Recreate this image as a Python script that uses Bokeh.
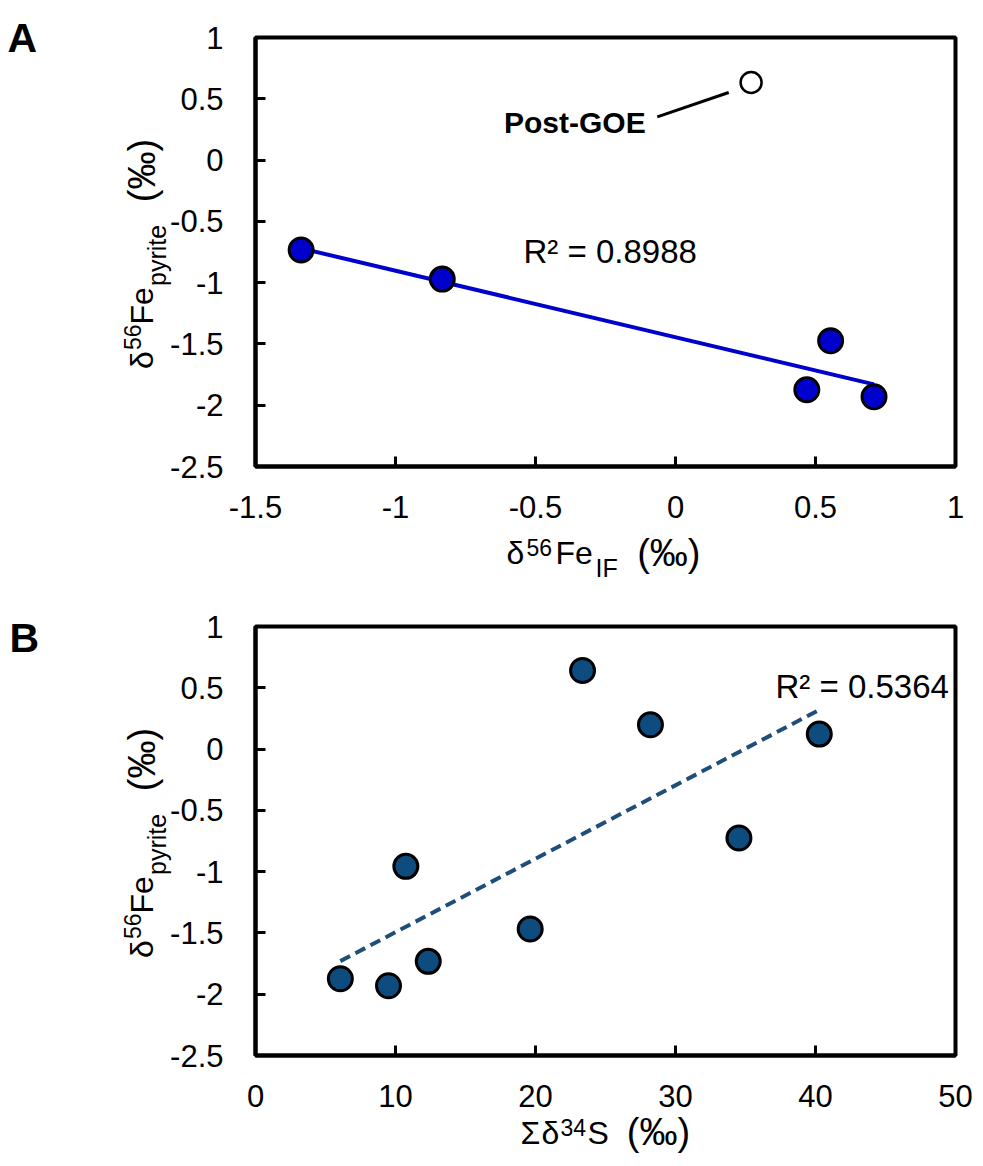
import math
from bokeh.plotting import figure
from bokeh.models import Label, FixedTicker, Range1d, NumeralTickFormatter
from bokeh.layouts import column
from bokeh.embed import file_html
from bokeh.resources import INLINE

# ---------------- data ----------------
# Panel A
fe_if = [-1.337, -0.833, 0.554, 0.469, 0.709]
fe_pyrite_a = [-0.734, -0.971, -1.474, -1.874, -1.931]
post_goe_x = [0.270]
post_goe_y = [0.633]
trend_a_x = [-1.337, 0.709]
trend_a_y = [-0.72, -1.83]
goe_leader_x = [-0.065, 0.190]
goe_leader_y = [0.353, 0.551]
r2_a = "R² = 0.8988"

# Panel B
sum_d34s = [6.06, 9.50, 12.34, 10.74, 19.62, 23.36, 28.21, 34.53, 40.27]
fe_pyrite_b = [-1.874, -1.931, -1.732, -0.957, -1.468, 0.641, 0.198, -0.726, 0.122]
trend_b_x = [6.06, 40.27]
trend_b_y = [-1.73, 0.32]
r2_b = "R² = 0.5364"

# ticks
xticks_a = [-1.5, -1, -0.5, 0, 0.5, 1]
xlabels_a = ["-1.5", "-1", "-0.5", "0", "0.5", "1"]
xticks_b = [0, 10, 20, 30, 40, 50]
xlabels_b = ["0", "10", "20", "30", "40", "50"]
yticks = [-2.5, -2, -1.5, -1, -0.5, 0, 0.5, 1]
ylabels = ["-2.5", "-2", "-1.5", "-1", "-0.5", "0", "0.5", "1"]

FONT = "Liberation Sans"
PAGE_W, PAGE_H = 983, 1166
PANEL_H = 583
FL, FW, FH = 255, 700, 429   # frame left (page px), frame width, frame height
TOP_A, TOP_B = 37, 626       # page y of the frame tops
SHIFT = 0.35                 # baseline correction (em)
A90 = math.pi / 2


def key(t):
    return int(t) if float(t).is_integer() else float(t)


def no_align(f):
    if "frame_align" in f.properties():
        f.frame_align = False


def make_fig(xr, xt, xl, top):
    p = figure(frame_width=FW, frame_height=FH,
               x_range=Range1d(*xr), y_range=Range1d(-2.5, 1),
               output_backend="svg", toolbar_location=None,
               min_border_left=FL, min_border_right=PAGE_W - FL - FW,
               min_border_top=top, min_border_bottom=PANEL_H - top - FH)
    no_align(p)
    p.background_fill_color = "white"
    p.border_fill_color = "white"
    p.grid.visible = False
    p.outline_line_color = "black"
    p.outline_line_width = 4
    p.outline_line_alpha = 1
    p.xaxis.ticker = FixedTicker(ticks=xt)
    p.xaxis.formatter = NumeralTickFormatter(format="0.[0]")
    p.xaxis.major_label_overrides = {key(t): s for t, s in zip(xt, xl)}
    p.yaxis.ticker = FixedTicker(ticks=yticks)
    p.yaxis.formatter = NumeralTickFormatter(format="0.[0]")
    p.yaxis.major_label_overrides = {key(t): s for t, s in zip(yticks, ylabels)}
    for ax in (p.xaxis[0], p.yaxis[0]):
        ax.axis_line_color = "black"
        ax.axis_line_width = 4
        ax.major_tick_in = 10
        ax.major_tick_out = 0
        ax.major_tick_line_width = 3
        ax.major_tick_line_color = "black"
        ax.minor_tick_line_color = None
        ax.major_label_text_font = FONT
        ax.major_label_text_font_size = "31px"
        ax.major_label_text_color = "black"
    p.xaxis.major_label_standoff = 29
    p.yaxis.major_label_standoff = 32
    return p


def lab(f, x, y, text, size, bold=False, angle=0.0, align="left"):
    f.add_layout(Label(x=x, y=y, x_units="data", y_units="data", text=text,
                       text_font=FONT, text_font_size=f"{size}px",
                       text_font_style="bold" if bold else "normal",
                       text_color="black", angle=angle,
                       text_align=align, text_baseline="alphabetic"))


def corr(cx, cy, size, angle):
    if angle:
        return cx - SHIFT * size, cy
    return cx, cy - SHIFT * size


def put_page(f, cx, cy, text, size, angle=0.0, **kw):
    # page pixel position of the baseline -> units of the full-page text layer
    cx, cy = corr(cx, cy, size, angle)
    lab(f, cx, PAGE_H - cy, text, size, angle=angle, **kw)


def put_data(p, xr, top_local, cx, cy_local, text, size, **kw):
    # pixel position of the baseline inside a panel -> data units of its chart
    cx, cy_local = corr(cx, cy_local, size, 0)
    x0, x1 = xr
    xd = x0 + (cx - FL) / FW * (x1 - x0)
    yd = 1 - (cy_local - top_local) / FH * 3.5
    lab(p, xd, yd, text, size, **kw)


# ---------------- panel A ----------------
XR_A = (-1.5, 1)
pa = make_fig(XR_A, xticks_a, xlabels_a, TOP_A)
pa.line(trend_a_x, trend_a_y, line_color="#0000CC", line_width=4)
pa.line(goe_leader_x, goe_leader_y, line_color="black", line_width=3)
pa.scatter(fe_if, fe_pyrite_a, marker="circle", size=24, fill_color="#0000CC",
           line_color="black", line_width=3)
pa.scatter(post_goe_x, post_goe_y, marker="circle", size=21, fill_color="white",
           line_color="black", line_width=2.5)
put_data(pa, XR_A, TOP_A, 503.5, 132, "Post-GOE", 30, bold=True)
put_data(pa, XR_A, TOP_A, 523, 262.5, r2_a, 33)

# ---------------- panel B ----------------
XR_B = (0, 50)
TOP_B_LOCAL = TOP_B - PANEL_H
pb = make_fig(XR_B, xticks_b, xlabels_b, TOP_B_LOCAL)
pb.line(trend_b_x, trend_b_y, line_color="#1F4E79", line_width=4, line_dash="11 6")
pb.scatter(sum_d34s, fe_pyrite_b, marker="circle", size=24, fill_color="#0E4C80",
           line_color="black", line_width=3)
put_data(pb, XR_B, TOP_B_LOCAL, 775, 697.6 - PANEL_H, r2_b, 33)

# ---------------- full-page transparent text layer (axis titles, panel letters) ----------------
txt = figure(width=PAGE_W, height=PAGE_H, x_range=Range1d(0, PAGE_W), y_range=Range1d(0, PAGE_H),
             output_backend="svg", toolbar_location=None, title=None,
             x_axis_location=None, y_axis_location=None, min_border=0,
             margin=(-PAGE_H, 0, 0, 0))
no_align(txt)
txt.grid.visible = False
txt.outline_line_color = None
txt.background_fill_color = None
txt.border_fill_color = None
txt.background_fill_alpha = 0
txt.border_fill_alpha = 0

# y-axis title pieces: (text, size, baseline x, offset along axis from frame centre, align)
ylab_parts = [("δ", 32, 153, 117, "left"), ("56", 23, 140, 98, "left"),
              ("Fe", 32, 153, 72.5, "left"), ("pyrite", 25, 165, 34, "left"),
              ("(‰)", 38, 155, -81.5, "center")]
for top in (TOP_A, TOP_B):
    c = top + FH / 2
    for t, s, bx, off, al in ylab_parts:
        put_page(txt, bx, c + off, t, s, angle=A90, align=al)

put_page(txt, 7, 52, "A", 41, bold=True)
put_page(txt, 9, 652, "B", 41, bold=True)

# x-axis title, panel A
put_page(txt, 506, 563.3, "δ", 32)
put_page(txt, 526, 555, "56", 23)
put_page(txt, 555, 563.3, "Fe", 32)
put_page(txt, 595, 576, "IF", 25)
put_page(txt, 668.3, 566, "(‰)", 38, align="center")

# x-axis title, panel B
put_page(txt, 520, 1143.5, "Σ", 32)
put_page(txt, 541, 1143.5, "δ", 32)
put_page(txt, 560, 1135.5, "34", 23)
put_page(txt, 587, 1143.5, "S", 32)
put_page(txt, 658, 1145, "(‰)", 38, align="center")

layout = column(pa, pb, txt, spacing=0)
open("out.html", "w").write(file_html(layout, INLINE))
